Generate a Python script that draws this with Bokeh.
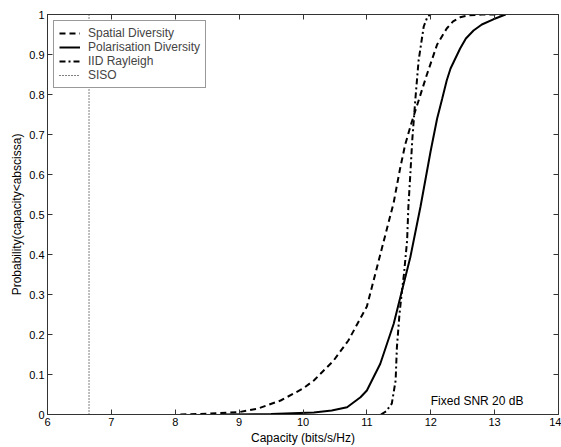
from bokeh.plotting import figure
from bokeh.models import LinearAxis, FixedTicker, Legend, LegendItem, Label, CustomLabelingPolicy
from bokeh.embed import file_html
from bokeh.resources import INLINE

# ---- data ----
spatial_x = [8.08, 8.5, 9.0, 9.3, 9.65, 10.0, 10.17, 10.48, 10.71, 11.0, 11.21, 11.42,
             11.52, 11.60, 11.70, 11.79, 11.94, 12.10, 12.25, 12.35, 12.46, 12.6, 12.8, 13.2]
spatial_p = [0, 0.002, 0.006, 0.015, 0.035, 0.065, 0.085, 0.135, 0.185, 0.27, 0.40, 0.53,
             0.615, 0.675, 0.73, 0.775, 0.85, 0.925, 0.965, 0.983, 0.993, 0.998, 1.0, 1.0]

polar_x = [8.71, 9.5, 10.17, 10.45, 10.69, 10.9, 11.0, 11.21, 11.42, 11.55, 11.68, 11.84,
           12.0, 12.10, 12.18, 12.25, 12.31, 12.46, 12.55, 12.67, 12.8, 12.98, 13.17]
polar_p = [0, 0.001, 0.005, 0.01, 0.018, 0.043, 0.06, 0.127, 0.227, 0.31, 0.393, 0.52,
           0.66, 0.74, 0.79, 0.835, 0.865, 0.915, 0.94, 0.96, 0.975, 0.988, 1.0]

iid_x = [11.22, 11.3, 11.39, 11.45, 11.47, 11.51, 11.55, 11.58, 11.63, 11.65, 11.68, 11.71,
         11.76, 11.81, 11.89, 11.95, 12.0]
iid_p = [0, 0.008, 0.027, 0.085, 0.168, 0.25, 0.31, 0.35, 0.435, 0.52, 0.60, 0.685,
         0.79, 0.885, 0.97, 0.995, 1.0]

siso_x = [6.65, 6.65]
siso_p = [0, 1]

x_ticks = [6, 7, 8, 9, 10, 11, 12, 13, 14]
y_ticks = [0, 0.1, 0.2, 0.3, 0.4, 0.5, 0.6, 0.7, 0.8, 0.9, 1]
y_tick_labels = ["0", "0.1", "0.2", "0.3", "0.4", "0.5", "0.6", "0.7", "0.8", "0.9", "1"]

FONT = "Liberation Sans"

p = figure(width=561, height=447, x_range=(6, 14), y_range=(0, 1),
           output_backend="svg", toolbar_location=None,
           min_border_left=47, min_border_right=3, min_border_top=14, min_border_bottom=33)
p.background_fill_color = "white"
p.border_fill_color = "white"
p.outline_line_color = "#333333"
p.xgrid.visible = False
p.ygrid.visible = False

def style_axis(ax, labels=True):
    ax.axis_line_color = "#333333"
    ax.major_tick_line_color = "#333333"
    ax.major_tick_in = 5
    ax.major_tick_out = 0
    ax.minor_tick_line_color = None
    ax.major_label_text_font = FONT
    ax.major_label_text_font_size = "11px"
    ax.major_label_text_color = "black"
    ax.major_label_standoff = 3
    ax.axis_label_text_font = FONT
    ax.axis_label_text_font_size = "12px"
    ax.axis_label_text_font_style = "normal"
    ax.axis_label_text_color = "black"
    ax.axis_label_standoff = 2
    if not labels:
        ax.major_label_policy = CustomLabelingPolicy(code="return []")
        ax.major_label_text_font_size = "0px"
        ax.major_label_standoff = 0

xa = p.xaxis[0]
ya = p.yaxis[0]
xa.ticker = FixedTicker(ticks=x_ticks)
ya.ticker = FixedTicker(ticks=y_ticks)
ya.major_label_overrides = {t: l for t, l in zip(y_ticks, y_tick_labels)}
xa.axis_label = "Capacity (bits/s/Hz)"
ya.axis_label = "Probability(capacity<abscissa)"
style_axis(xa)
style_axis(ya)

top = LinearAxis(ticker=FixedTicker(ticks=x_ticks))
right = LinearAxis(ticker=FixedTicker(ticks=y_ticks))
style_axis(top, labels=False)
style_axis(right, labels=False)
p.add_layout(top, "above")
p.add_layout(right, "right")

r_sp = p.line(spatial_x, spatial_p, line_color="black", line_width=2, line_dash="6 4")
r_po = p.line(polar_x, polar_p, line_color="black", line_width=2)
r_iid = p.line(iid_x, iid_p, line_color="black", line_width=2, line_dash="6 3 2 3")
r_siso = p.line(siso_x, siso_p, line_color="black", line_width=1, line_dash="1 2")

legend = Legend(items=[
    LegendItem(label="Spatial Diversity", renderers=[r_sp]),
    LegendItem(label="Polarisation Diversity", renderers=[r_po]),
    LegendItem(label="IID Rayleigh", renderers=[r_iid]),
    LegendItem(label="SISO", renderers=[r_siso]),
], location="top_left")
legend.margin = 6
legend.padding = 5
legend.spacing = 0
legend.label_height = 12
legend.glyph_height = 12
legend.glyph_width = 21
legend.label_standoff = 8
legend.label_text_font = FONT
legend.label_text_font_size = "12px"
legend.border_line_color = "#333333"
legend.background_fill_alpha = 1
p.add_layout(legend)

p.add_layout(Label(x=12.0, y=0.033, text="Fixed SNR 20 dB", text_font=FONT,
                   text_font_size="12px", text_baseline="middle", text_color="black"))

open("out.html", "w").write(file_html(p, INLINE))
